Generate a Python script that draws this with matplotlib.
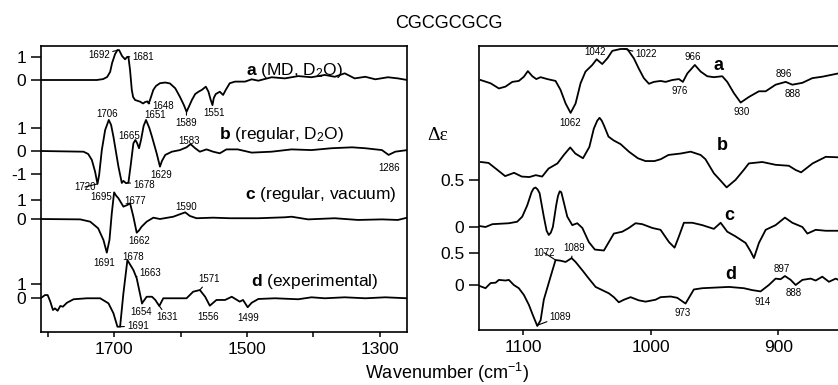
import matplotlib
matplotlib.use("Agg")
import matplotlib.pyplot as plt
import numpy as np

plt.rcParams['font.family'] = 'Liberation Sans'
plt.rcParams['mathtext.fontset'] = 'custom'
plt.rcParams['mathtext.rm'] = 'Liberation Sans'
plt.rcParams['mathtext.it'] = 'Liberation Sans'
plt.rcParams['mathtext.bf'] = 'Liberation Sans:bold'

# ---- left panel: 1810-1260 cm-1 -------------------------------------------
L_A_WN = [1810, 1726, 1716.5, 1710.5, 1706, 1703, 1698.5, 1695, 1692.5, 1688,
          1683.5, 1680.5, 1678.5, 1676, 1673.4, 1671.4, 1668.4, 1661, 1656.4, 1653.4,
          1650, 1648, 1646, 1641, 1637, 1631, 1623, 1616, 1608, 1601,
          1595, 1591, 1587, 1583, 1578, 1573, 1568, 1562, 1558, 1555,
          1552, 1550, 1547, 1541, 1536, 1532, 1526, 1518, 1503, 1493,
          1483, 1463, 1443, 1423, 1403, 1383, 1368, 1353, 1338, 1322,
          1307, 1288, 1273, 1259]
L_A = [0, 0, 0.04, 0.13, 0.35, 0.74, 1.13, 1.30, 1.30, 1.04,
       0.90, 1.0, 1.01, 0.43, -0.43, -0.74, -0.87, -0.94, -1.02, -0.96,
       -0.93, -1.02, -0.87, -0.43, -0.26, -0.14, -0.11, -0.15, -0.36, -0.73,
       -1.09, -1.38, -1.13, -0.87, -0.61, -0.51, -0.43, -0.29, -0.51, -0.83,
       -1.09, -0.78, -0.61, -0.51, -0.65, -0.43, -0.14, -0.07, -0.07, 0.03,
       -0.03, 0.12, 0.07, 0.17, 0.12, 0.22, 0.14, 0.29, 0.07, 0.14,
       0.03, 0.12, 0.07, 0]

L_B_WN = [1810, 1746, 1739, 1733.5, 1728.6, 1725, 1722.5, 1718.5, 1713.5, 1708,
          1704.5, 1701, 1693.5, 1688.4, 1686, 1682, 1678.5, 1675, 1671, 1668,
          1665.5, 1662.5, 1659.5, 1655.6, 1652, 1647, 1643, 1636, 1631, 1628,
          1623, 1613, 1601, 1591, 1585, 1578, 1571, 1561, 1551, 1541,
          1531, 1514, 1493, 1463, 1433, 1403, 1373, 1342, 1322, 1297,
          1287, 1277, 1259]
L_B = [0, -0.03, -0.13, -0.39, -0.9, -1.43, -1.04, 0.04, 0.91, 1.35,
       1.13, 0.62, -0.68, -1.39, -1.30, -1.40, -1.38, -0.61, 0.33, 0.48,
       0.35, 0.12, 0.48, 1.09, 1.35, 1.0, 0.62, -0.10, -0.68, -0.43,
       -0.17, -0.03, 0.04, 0.16, 0.30, 0.12, -0.03, 0.07, -0.03, -0.10,
       0.07, 0.07, -0.07, -0.03, 0.07, 0.04, 0.12, 0.16, 0.12, 0.04,
       -0.17, -0.03, 0.04]

L_C_WN = [1810, 1751, 1736, 1724, 1716, 1711, 1707, 1703.5, 1700, 1697,
          1693.5, 1686, 1680, 1676, 1671, 1666, 1662.5, 1658.5, 1651, 1641,
          1631, 1611, 1601, 1593, 1586, 1576, 1551, 1526, 1483, 1443,
          1433, 1408, 1368, 1333, 1297, 1273, 1259]
L_C = [0, -0.02, -0.14, -0.49, -1.11, -1.77, -1.11, 0.30, 1.40, 1.23,
       1.09, 0.65, 0.74, 0.83, 0.12, -0.72, -0.6, -0.4, -0.14, 0.07,
       0, 0.12, 0.25, 0.35, 0.16, 0.04, 0.07, 0.04, 0.04, 0.09,
       0.12, -0.02, 0.04, -0.05, -0.02, -0.05, 0.07]

L_D_WN = [1810, 1804, 1800, 1796, 1792, 1789, 1785, 1781, 1777, 1771,
          1761, 1741, 1721, 1708.5, 1701, 1695, 1691, 1686, 1680, 1671,
          1666, 1658, 1651, 1643, 1638, 1632, 1626, 1611, 1591, 1581,
          1571, 1563, 1556, 1546, 1533, 1523, 1511, 1506, 1499, 1493,
          1483, 1458, 1423, 1403, 1383, 1353, 1322, 1292, 1259]
L_D = [0, 0.21, 0.21, -0.26, -0.86, -0.74, -0.91, -0.57, -0.62, -0.34,
       -0.09, -0.02, -0.02, -0.38, -1.09, -2.05, -2.05, 0.34, 2.71, 2.0,
       1.41, -0.38, 0.09, 0.09, -0.14, -0.57, -0.02, -0.02, -0.02, 0.45,
       0.57, 0.09, -0.55, -0.14, -0.14, 0.09, -0.26, -0.14, -0.66, -0.34,
       -0.07, -0.02, -0.09, 0.05, -0.02, 0.05, -0.02, 0.05, -0.02]

# ---- right panel: 1135-853 cm-1 -------------------------------------------
R_A_WN = [1133.3, 1125.4, 1118.9, 1113.7, 1108.4, 1103.3, 1099.3, 1096.2, 1092.7, 1089.6,
          1086.2, 1081, 1074.5, 1070.6, 1066.6, 1062.7, 1058.8, 1054.9, 1051, 1045.7,
          1042.3, 1037.9, 1033.9, 1030, 1023.5, 1018.3, 1013.1, 1009.2, 1005.3, 1001.3,
          997.4, 992.2, 988.2, 983, 977.8, 974.7, 971.2, 965.3, 960.8, 955.6,
          950.4, 943.8, 939.9, 934.7, 929.4, 922.9, 915.1, 909.8, 902, 894.1,
          888.9, 881, 873.2, 865.4, 852.8]
R_A = [0, -0.035, -0.09, -0.07, -0.02, -0.01, 0.035, 0.095, 0.04, 0.01,
       0.03, 0.01, -0.01, -0.105, -0.25, -0.35, -0.25, -0.035, 0.09, 0.16,
       0.22, 0.17, 0.23, 0.31, 0.33, 0.33, 0.23, 0.12, 0.02, -0.04,
       -0.02, -0.01, -0.02, 0, 0.01, -0.02, 0.07, 0.16, 0.09, 0.04,
       0.03, 0.04, -0.02, -0.14, -0.24, -0.18, -0.12, -0.12, -0.05, -0.02,
       -0.05, -0.03, 0.02, 0.035, 0.07]

R_B_WN = [1133, 1127, 1120, 1114, 1107, 1101, 1095, 1090, 1085, 1080,
          1073, 1068, 1063, 1059, 1053, 1048, 1044.5, 1041.8, 1040, 1038.3,
          1036.6, 1033, 1029, 1023.5, 1017, 1010, 1004, 997, 992, 986,
          976.5, 968.6, 960.8, 957, 950.4, 945, 940.4, 933.4, 927, 923,
          912.4, 902, 891.6, 886.3, 882, 873, 862.7, 852.8]
R_B = [0, -0.01, -0.085, -0.15, -0.115, -0.155, -0.16, -0.14, -0.155, -0.07,
       -0.015, 0.075, 0.155, 0.09, 0.04, 0.16, 0.355, 0.44, 0.47, 0.44,
       0.39, 0.27, 0.23, 0.19, 0.11, 0.04, 0.01, 0.01, 0.03, 0.075,
       0.09, 0.11, 0.075, 0.03, -0.12, -0.2, -0.27, -0.19, -0.085, -0.015,
       0.0, -0.03, -0.04, -0.085, -0.11, -0.015, 0.055, 0.05]

R_C_WN = [1134, 1129.4, 1124, 1111, 1104.6, 1100.6, 1096.7, 1093.3, 1091.7, 1090.2,
          1088.6, 1087, 1083.7, 1081.5, 1079.8, 1078.2, 1076.6, 1074, 1072.6, 1071.2,
          1070, 1068.8, 1065.3, 1061.4, 1057.5, 1053.5, 1048.4, 1043.7, 1036.6, 1032.7,
          1028.8, 1022.2, 1017, 1011.8, 1006.5, 998.7, 992.2, 985.6, 981.2, 977.8,
          973.9, 967.3, 959.5, 950.4, 945.1, 939.9, 933.4, 925.5, 921.6, 919,
          915.1, 909.8, 902, 894.7, 888.9, 881, 877.1, 870.6, 862.7, 852.8]
R_C = [0.01, 0.0, 0.03, 0.04, 0.056, 0.11, 0.23, 0.37, 0.41, 0.42,
       0.40, 0.36, 0.11, -0.04, -0.085, -0.06, 0.0, 0.23, 0.33, 0.38,
       0.37, 0.305, 0.11, 0.02, 0.04, -0.01, -0.16, -0.24, -0.25, -0.16,
       -0.07, -0.05, -0.01, 0.04, 0.03, -0.01, -0.03, -0.16, -0.22, -0.1,
       0.045, 0.045, 0.02, -0.02, 0.045, -0.05, -0.1, -0.17, -0.26, -0.33,
       -0.17, -0.03, 0.02, 0.1, 0.045, 0.0, -0.07, -0.03, -0.04, -0.04]

R_D_WN = [1134, 1129.4, 1125.4, 1121.5, 1118.9, 1113.7, 1111.1, 1107.2, 1103.3, 1099.3,
          1095.4, 1092.3, 1088.8, 1086.2, 1083.7, 1078.4, 1074.5, 1070.6, 1066.6, 1061.9,
          1058.8, 1053.5, 1048.4, 1043.1, 1037.9, 1032.7, 1028.8, 1024.9, 1020.9, 1015.7,
          1009.2, 1003.9, 996.1, 992.2, 984.3, 979.1, 972.6, 966.1, 959.5, 949,
          938.6, 926.9, 920.3, 913.8, 907.3, 902, 898.1, 894.7, 890.2, 886.3,
          881, 874.5, 870.6, 865.4, 860.2, 854.9, 852.8]
R_D = [-0.015, -0.05, 0.03, 0.036, 0.08, 0.07, 0.08, 0.0, -0.05, -0.156,
       -0.31, -0.47, -0.64, -0.55, -0.23, 0.13, 0.39, 0.38, 0.36, 0.42,
       0.36, 0.23, 0.1, -0.03, -0.08, -0.13, -0.19, -0.27, -0.23, -0.19,
       -0.24, -0.26, -0.23, -0.19, -0.18, -0.2, -0.29, -0.07, -0.05, -0.04,
       -0.03, -0.05, -0.08, -0.1, 0.0, 0.1, 0.09, 0.14, 0.08, 0.0,
       0.08, 0.1, 0.07, 0.13, 0.05, 0.1, 0.08]

LEFT = {'a': (L_A_WN, L_A), 'b': (L_B_WN, L_B), 'c': (L_C_WN, L_C), 'd': (L_D_WN, L_D)}
RIGHT = {'a': (R_A_WN, R_A), 'b': (R_B_WN, R_B), 'c': (R_C_WN, R_C), 'd': (R_D_WN, R_D)}

# stacking: baseline (px from top of figure) and px per unit of delta-epsilon
LEFT_BASE = {'a': 80, 'b': 151, 'c': 219, 'd': 298}
LEFT_GAIN = {'a': 23, 'b': 23, 'c': 19, 'd': 14}
RIGHT_BASE = {'a': 80, 'b': 162, 'c': 227, 'd': 285}
RIGHT_GAIN = {'a': 94, 'b': 94, 'c': 94, 'd': 64}

LEFT_YTICKS = [('a', [1, 0]), ('b', [1, 0, -1]), ('c', [1, 0]), ('d', [1, 0])]
RIGHT_YTICKS = [('c', [0.5, 0]), ('d', [0.5, 0])]

LEFT_TITLES = [('a', '(MD, D$_2$O)', 1428, 75), ('b', '(regular, D$_2$O)', 1448, 139.3),
               ('c', '(regular, vacuum)', 1389, 199.3), ('d', '(experimental)', 1398, 286)]
RIGHT_TITLES = [('a', 946.5, 70), ('b', 943.8, 150), ('c', 938.6, 220), ('d', 937.3, 279)]

# (label, x in cm-1, y px, trace for leader line, leader target cm-1)
LEFT_NOTES = [('1692', 1722.6, 55, 'a', 1694), ('1681', 1656, 56.7, 'a', 1679),
              ('1648', 1626, 106, 'a', 1648), ('1589', 1591.7, 123, 'a', 1591),
              ('1551', 1550, 113, 'a', 1552),
              ('1706', 1709.8, 114, None, None), ('1651', 1639, 115, None, None),
              ('1665', 1677.4, 136, None, None), ('1583', 1587, 140.7, None, None),
              ('1629', 1629.3, 175, None, None), ('1286', 1286.4, 168, None, None),
              ('1720', 1744, 187, 'b', 1725), ('1678', 1655, 185, 'b', 1679),
              ('1695', 1720, 197.3, None, None), ('1677', 1668, 200.7, None, None),
              ('1590', 1591, 206.7, None, None), ('1662', 1662.9, 241, None, None),
              ('1691', 1715, 263.3, None, None),
              ('1678', 1671.7, 257.3, None, None), ('1663', 1645, 273.3, 'd', 1667),
              ('1571', 1557, 279.3, 'd', 1571), ('1654', 1659.7, 311.7, 'd', 1658),
              ('1631', 1619.5, 317.3, 'd', 1632), ('1556', 1559, 316.7, None, None),
              ('1499', 1498.5, 318.3, None, None), ('1691', 1664, 326, 'd', 1691)]
RIGHT_NOTES = [('1042', 1043.9, 52.3, None, None), ('1022', 1003.3, 54.3, 'a', 1021),
               ('966', 966.8, 56.7, None, None), ('896', 895.5, 74, None, None),
               ('976', 977, 90.7, None, None), ('888', 888.9, 94, None, None),
               ('930', 928.9, 111.7, None, None), ('1062', 1062.7, 122.7, None, None),
               ('1072', 1083.4, 252.7, 'd', 1074.5), ('1089', 1060.3, 248.3, 'd', 1062),
               ('897', 896.8, 269.3, None, None), ('888', 888.1, 292.7, None, None),
               ('914', 912.4, 301.7, None, None), ('973', 975.1, 313.3, None, None),
               ('1089', 1070.6, 316.7, 'd', 1089)]

W, H = 838, 385
fig = plt.figure(figsize=(W / 100, H / 100), dpi=100, facecolor='white')
axL = fig.add_axes([41 / W, (H - 332) / H, 366 / W, 286 / H])
axR = fig.add_axes([479 / W, (H - 330) / H, 359 / W, 284 / H])


def curve_y(traces, base, gain, key, target):
	wn, val = traces[key]
	return gain[key] * np.interp(target, wn[::-1], val[::-1]) - base[key]


def draw_panel(ax, traces, base, gain, notes):
	for key, (wn, val) in traces.items():
		ax.plot(wn, np.array(val) * gain[key] - base[key], color='k', lw=1.3,
		        solid_joinstyle='round')
	for txt, x, y, key, target in notes:
		if key is None:
			ax.text(x, -y, txt, fontsize=7, ha='center', va='center')
		else:
			ax.annotate(txt, xy=(target, curve_y(traces, base, gain, key, target)),
			            xytext=(x, -y), fontsize=7, ha='center', va='center',
			            arrowprops=dict(arrowstyle='-', lw=0.8, color='k',
			                            shrinkA=0, shrinkB=0))


draw_panel(axL, LEFT, LEFT_BASE, LEFT_GAIN, LEFT_NOTES)
draw_panel(axR, RIGHT, RIGHT_BASE, RIGHT_GAIN, RIGHT_NOTES)

for key, rest, x, y in LEFT_TITLES:
	axL.text(x, -y, r'$\bf{' + key + '}$ ' + rest, fontsize=12.5, ha='center', va='baseline')
for key, x, y in RIGHT_TITLES:
	axR.text(x, -y, key, fontsize=13, fontweight='bold', ha='center', va='baseline')

axL.set_xlim(1810, 1259.3)
axL.set_ylim(-332, -46)
axR.set_xlim(1134.5, 853.1)
axR.set_ylim(-330, -46)

axL.set_xticks([1800, 1700, 1600, 1500, 1400, 1300])
axL.set_xticklabels(['', '1700', '', '1500', '', '1300'])
axR.set_xticks([1100, 1000, 900])

pos, lab = [], []
for key, vals in LEFT_YTICKS:
	for v in vals:
		pos.append(LEFT_GAIN[key] * v - LEFT_BASE[key])
		lab.append('%g' % v)
axL.set_yticks(pos)
axL.set_yticklabels(lab)

pos, lab = [], []
for key, vals in RIGHT_YTICKS:
	for v in vals:
		pos.append(RIGHT_GAIN[key] * v - RIGHT_BASE[key])
		lab.append('%g' % v)
axR.set_yticks(pos)
axR.set_yticklabels(lab)

for ax in (axL, axR):
	for sp in ax.spines.values():
		sp.set_linewidth(1.2)
	ax.tick_params(axis='y', direction='out', length=7.5, width=1.1, pad=3, labelsize=12.5)
	ax.tick_params(axis='x', direction='out', length=3.5, width=1.1, pad=4, labelsize=12.5)
axR.spines['right'].set_visible(False)

fig.text(449 / W, 1 - 24 / H, 'CGCGCGCG', fontsize=13, ha='center', va='center')
fig.text(447 / W, 1 - 373 / H, 'Wavenumber (cm$^{-1}$)', fontsize=13, ha='center', va='center')
fig.text(438 / W, 1 - 135 / H, 'Δε', family='Liberation Serif', fontsize=14, ha='center', va='center')

fig.savefig('out.png', dpi=100)
